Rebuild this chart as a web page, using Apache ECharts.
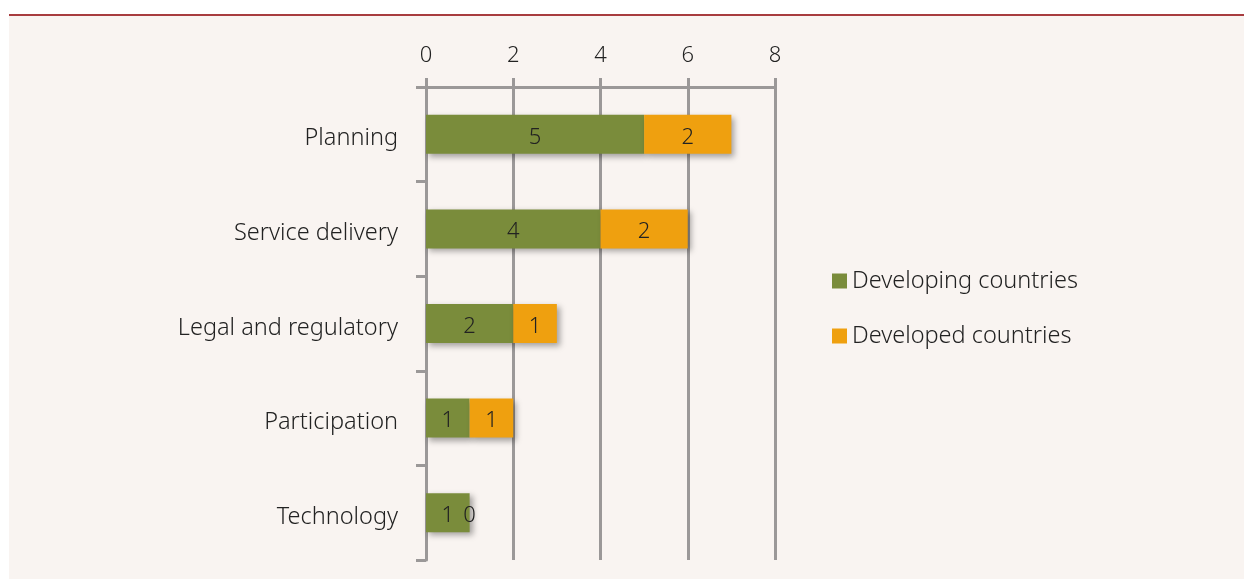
<!DOCTYPE html>
<html>
<head>
<meta charset="utf-8">
<script src="https://cdn.jsdelivr.net/npm/echarts@6/dist/echarts.min.js"></script>
<style>
  html, body { margin: 0; padding: 0; background: #ffffff; }
  .frame {
    position: absolute;
    left: 9px; top: 14px; width: 1235px; height: 564px;
    background: #f9f4f1;
    border-top: 2px solid #a83c3f;
  }
  #chart { position: absolute; left: -9px; top: -16px; width: 1244px; height: 579px; }
</style>
</head>
<body>
<div class="frame"><div id="chart"></div></div>
<script>
const categories = ['Planning', 'Service delivery', 'Legal and regulatory', 'Participation', 'Technology'];
const developing = [5, 4, 2, 1, 1];
const developed = [2, 2, 1, 1, 0];
const xTicks = [0, 2, 4, 6, 8];

const myChart = echarts.init(document.getElementById('chart'));
const font = '"Noto Sans", sans-serif';
const labelStyle = {
  show: true,
  position: 'inside',
  offset: [0, 3],
  color: '#222',
  fontSize: 22,
  fontFamily: font,
  fontWeight: 300
};
const shadow = {
  shadowColor: 'rgba(0,0,0,0.35)',
  shadowBlur: 6,
  shadowOffsetX: 3,
  shadowOffsetY: 3
};

const option = {
  animation: false,
  grid: { left: 426, right: 469, top: 87, bottom: 19 },
  legend: {
    orient: 'vertical',
    left: 827,
    top: 264,
    itemWidth: 15,
    itemHeight: 15,
    itemGap: 31,
    icon: 'rect',
    textStyle: { fontSize: 23.5, fontFamily: font, fontWeight: 300, color: '#222', padding: [3, 0, 0, 0] },
    data: ['Developing countries', 'Developed countries']
  },
  xAxis: {
    type: 'value',
    position: 'top',
    min: 0,
    max: 8,
    interval: 2,
    axisLine: { show: true, lineStyle: { color: '#9b9898', width: 3 } },
    axisTick: { show: true, length: 9, lineStyle: { color: '#9b9898', width: 3 } },
    splitLine: { show: true, lineStyle: { color: '#9b9898', width: 3 } },
    axisLabel: {
      margin: 20,
      fontSize: 22,
      fontFamily: font,
      fontWeight: 300,
      color: '#222',
      formatter: v => xTicks.includes(v) ? String(v) : ''
    }
  },
  yAxis: {
    type: 'category',
    inverse: true,
    data: categories,
    axisLine: { show: true, lineStyle: { color: '#9b9898', width: 3 } },
    axisTick: { show: true, length: 10, lineStyle: { color: '#9b9898', width: 3 } },
    axisLabel: {
      margin: 28,
      formatter: v => '{c|' + v + '}',
      rich: {
        c: {
          fontSize: 23.5,
          fontFamily: font,
          fontWeight: 300,
          color: '#222',
          padding: [9, 0, 0, 0]
        }
      }
    }
  },
  series: [
    {
      name: 'Developing countries',
      type: 'bar',
      stack: 'total',
      barWidth: 39,
      data: developing,
      itemStyle: Object.assign({ color: '#7a8c3b' }, shadow),
      label: labelStyle
    },
    {
      name: 'Developed countries',
      type: 'bar',
      stack: 'total',
      barWidth: 39,
      data: developed,
      itemStyle: Object.assign({ color: '#efa00f' }, shadow),
      label: labelStyle
    }
  ]
};
myChart.setOption(option);
</script>
</body>
</html>
